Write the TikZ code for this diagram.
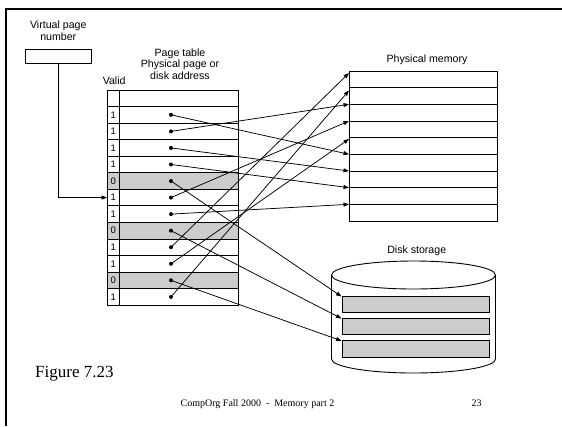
\documentclass[tikz,border=0pt]{standalone}
\usepackage{fontspec}
\setmainfont{Liberation Serif}
\setsansfont{Liberation Sans}
\usetikzlibrary{arrows.meta}
\definecolor{cellgray}{RGB}{204,204,204}
\begin{document}
\begin{tikzpicture}[x=1pt,y=-1pt,
  lbl/.style={font=\sffamily\fontsize{10.6}{11.5}\selectfont, inner sep=0, align=center},
  bit/.style={font=\sffamily\fontsize{9.5}{10}\selectfont, inner sep=0},
  tbl/.style={line width=0.9pt},
  conn/.style={line width=0.75pt, -{Triangle[length=5.5pt,width=4pt]}},
  dot/.style={fill=black},
  serif/.style={font=\rmfamily, inner sep=0}]
\useasboundingbox (0,0) rectangle (562,426);
% slide frame
\draw[line width=2pt] (6,426) -- (6,9) -- (562,9);

% virtual page number
\node[lbl] (vpnlbl) at (58.3,30.5) {Virtual page\\number};
\node[draw, line width=0.9pt, minimum width=66.7pt, minimum height=14pt, inner sep=0] (vpn) at (58.3,56.3) {};

% page table labels
\node[lbl] (ptlbl) at (180,64) {Page table\\Physical page or\\disk address};
\node[lbl] (validlbl) at (114.2,80.5) {Valid};

% page table
\foreach \k in {5,8,11}
  \fill[cellgray] (107,{90+16.55*\k}) rectangle (238,{90+16.55*(\k+1)});
\draw[tbl] (107,90) rectangle (238,305.15);
\draw[tbl] (119.5,90) -- (119.5,305.15);
\foreach \k in {1,...,12}
  \draw[tbl] (107,{90+16.55*\k}) -- (238,{90+16.55*\k});
\foreach \v [count=\k] in {1,1,1,1,0,1,1,0,1,1,0,1}
  \node[bit] (b\k) at (113.3,{90+16.55*(\k+0.5)}) {\v};
\foreach \k in {1,...,12}{
  \coordinate (d\k) at (171,{90+16.55*(\k+0.5)});
  \fill[dot] (d\k) circle (2pt);
}
\coordinate (vpnin) at (107,{90+16.55*6.5});
\draw[conn] (vpn.south) |- (vpnin);

% physical memory
\node[lbl] (pmlbl) at (427,60) {Physical memory};
\draw[tbl] (349,71) rectangle (497,221);
\foreach \k in {1,...,8}
  \draw[tbl] (349,{71+16.667*\k}) -- (497,{71+16.667*\k});
\coordinate (ma) at (349,73);
\coordinate (mb) at (349,90.5);
\coordinate (mc) at (349,104.3);
\coordinate (md) at (349,121);
\coordinate (me) at (349,139);
\coordinate (mf) at (349,154.3);
\coordinate (mg) at (349,171);
\coordinate (mh) at (349,187.7);
\coordinate (mi) at (349,204.3);

% disk storage
\node[lbl] (dslbl) at (416.7,250.7) {Disk storage};
\draw[line width=0.9pt] (331.5,275) -- (331.5,359) arc[start angle=180, end angle=360, x radius=82pt, y radius=14pt] -- (495.5,275);
\draw[line width=0.9pt] (413.5,275) ellipse [x radius=82pt, y radius=14pt];
\foreach \t in {296,318,340.3}
  \draw[tbl, fill=cellgray] (342,\t) rectangle (489.3,{\t+16.7});
\coordinate (k1) at (341.5,296.5);
\coordinate (k2) at (341.5,318.5);
\coordinate (k3) at (341.5,340.8);

% mappings
\draw[conn] (d1) -- (mf);
\draw[conn] (d2) -- (mc);
\draw[conn] (d3) -- (mg);
\draw[conn] (d4) -- (mh);
\draw[conn] (d6) -- (md);
\draw[conn] (d7) -- (mi);
\draw[conn] (d9) -- (ma);
\draw[conn] (d10) -- (me);
\draw[conn] (d12) -- (mb);
\draw[conn] (d5) -- (k1);
\draw[conn] (d8) -- (k2);
\draw[conn] (d11) -- (k3);

% captions
\node[serif, anchor=base west, font=\rmfamily\fontsize{17}{18}\selectfont] (fig) at (35,377.5) {Figure 7.23};
\node[serif, anchor=base, font=\rmfamily\fontsize{10}{11}\selectfont] (foot) at (257.5,406.5) {CompOrg Fall 2000 \ - \ Memory part 2};
\node[serif, anchor=base, font=\rmfamily\fontsize{10}{11}\selectfont] (pg) at (476.5,406.5) {23};
\end{tikzpicture}
\end{document}
